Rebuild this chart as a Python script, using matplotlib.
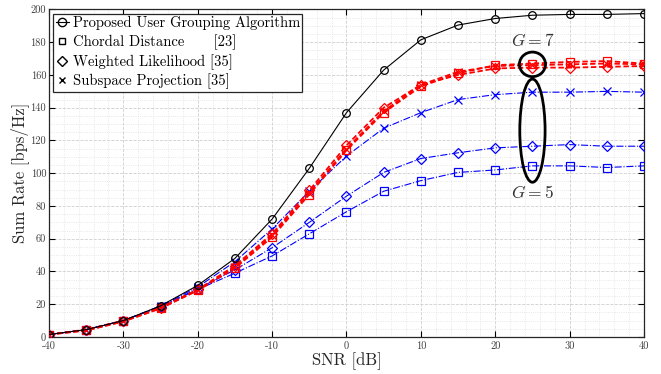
import matplotlib
matplotlib.use("Agg")
import matplotlib.pyplot as plt
from matplotlib.lines import Line2D
from matplotlib.patches import Ellipse
from matplotlib.ticker import MultipleLocator, FuncFormatter

plt.rcParams["font.family"] = "cmr10"
plt.rcParams["mathtext.fontset"] = "cm"

snr = [-40, -35, -30, -25, -20, -15, -10, -5, 0, 5, 10, 15, 20, 25, 30, 35, 40]

proposed = [1.5, 4.5, 10, 19, 31.5, 48, 72, 103, 137, 163, 181.5, 190.5, 194.5, 196.5, 197, 197, 197.5]

# G = 7 (red, dashed)
chordal_g7 = [1.5, 4, 9.5, 17.5, 28.5, 42, 61, 87, 114, 137, 153, 161, 166, 167, 168, 168.5, 167]
weighted_g7 = [1.5, 4.5, 10, 18, 29, 43.5, 63, 89.5, 117, 140, 154, 160, 164, 164.5, 164.5, 165, 165.5]
subspace_g7 = [1.5, 4, 9.5, 17.5, 28.5, 42.5, 62, 88, 115, 138, 154, 162, 165.5, 166, 166.5, 167, 166.5]

# G = 5 (blue, dash-dot)
chordal_g5 = [1.5, 4.5, 10, 18.5, 29, 39, 49.5, 63, 76.5, 89, 95.5, 100.5, 102, 104.5, 104.5, 103.5, 104.5]
weighted_g5 = [1.5, 4.5, 10, 18.5, 29.5, 41, 54.5, 70, 86, 100.5, 109, 112.5, 115.5, 116.5, 117.5, 116.5, 116.5]
subspace_g5 = [1.5, 4.5, 10, 19, 30.5, 46, 66, 89, 110.5, 127.5, 137, 145, 148, 149.5, 149.5, 150, 149.5]

legend_labels = ["Proposed User Grouping Algorithm",
                 "Chordal Distance      [23]",
                 "Weighted Likelihood [35]",
                 "Subspace Projection [35]"]

fig = plt.figure(figsize=(6.61, 3.74), dpi=100)
ax = fig.add_axes([0.0741, 0.099, 0.9002, 0.8756])

ax.plot(snr, proposed, color="black", lw=0.8, marker="o", markerfacecolor="none",
        markersize=5.5, markeredgewidth=0.9, zorder=5)

for y, m in [(chordal_g5, "s"), (weighted_g5, "D"), (subspace_g5, "x")]:
    ms = 5 if m == "D" else 5.5
    ax.plot(snr, y, color="#0000ff", lw=0.8, ls="-.", marker=m,
            markerfacecolor="none", markersize=ms, markeredgewidth=0.9, zorder=3)

for y, m in [(chordal_g7, "s"), (weighted_g7, "D"), (subspace_g7, "x")]:
    ms = 5 if m == "D" else 5.5
    ax.plot(snr, y, color="#ff0000", lw=1.3, ls=(0, (3, 1.5)), marker=m,
            markerfacecolor="none", markersize=ms, markeredgewidth=0.9, zorder=4)

# ellipses marking the groups
ax.add_patch(Ellipse((25, 166.5), 3.5, 15, fill=False, color="black", lw=2, zorder=6))
ax.add_patch(Ellipse((25, 126), 3.4, 63, fill=False, color="black", lw=2, zorder=6))
ax.text(25, 181, "$G = 7$", ha="center", va="center", fontsize=12.5, color="#333333")
ax.text(25, 88, "$G = 5$", ha="center", va="center", fontsize=12.5, color="#333333")

ax.set_xlim(-40, 40)
ax.set_ylim(0, 200)
ax.xaxis.set_major_locator(MultipleLocator(10))
ax.yaxis.set_major_locator(MultipleLocator(20))
ax.xaxis.set_minor_locator(MultipleLocator(2))
ax.yaxis.set_minor_locator(MultipleLocator(5))
fmt = FuncFormatter(lambda v, p: "%d" % v)
ax.xaxis.set_major_formatter(fmt)
ax.yaxis.set_major_formatter(fmt)
ax.grid(which="major", color="#cfcfcf", ls="--", lw=0.6)
ax.grid(which="minor", color="#e0e0e0", ls=":", lw=0.6)
ax.set_axisbelow(True)
ax.tick_params(which="major", direction="in", length=4, width=0.8,
               top=True, right=True, labelsize=7.5, labelcolor="#404040", pad=3)
ax.tick_params(axis="y", which="major", pad=2)
ax.tick_params(which="minor", length=0)
for s in ax.spines.values():
    s.set_linewidth(0.9)
    s.set_color("#262626")

ax.set_xlabel("SNR [dB]", fontsize=12, labelpad=1, color="#262626")
ax.set_ylabel("Sum Rate [bps/Hz]", fontsize=12, labelpad=1, color="#262626")

handles = [
    Line2D([], [], color="black", lw=0.8, marker="o", markerfacecolor="none", markersize=6),
    Line2D([], [], color="black", ls="none", marker="s", markerfacecolor="none", markersize=5),
    Line2D([], [], color="black", ls="none", marker="D", markerfacecolor="none", markersize=5),
    Line2D([], [], color="black", ls="none", marker="x", markersize=5),
]
leg = ax.legend(handles, legend_labels, loc="upper left", fontsize=10.5,
                handlelength=0.9, handletextpad=0.3, labelspacing=0.28,
                borderpad=0.15, borderaxespad=0.3, fancybox=False, framealpha=1,
                edgecolor="#262626")
leg.get_frame().set_linewidth(0.9)

fig.savefig("out.png", dpi=100)
